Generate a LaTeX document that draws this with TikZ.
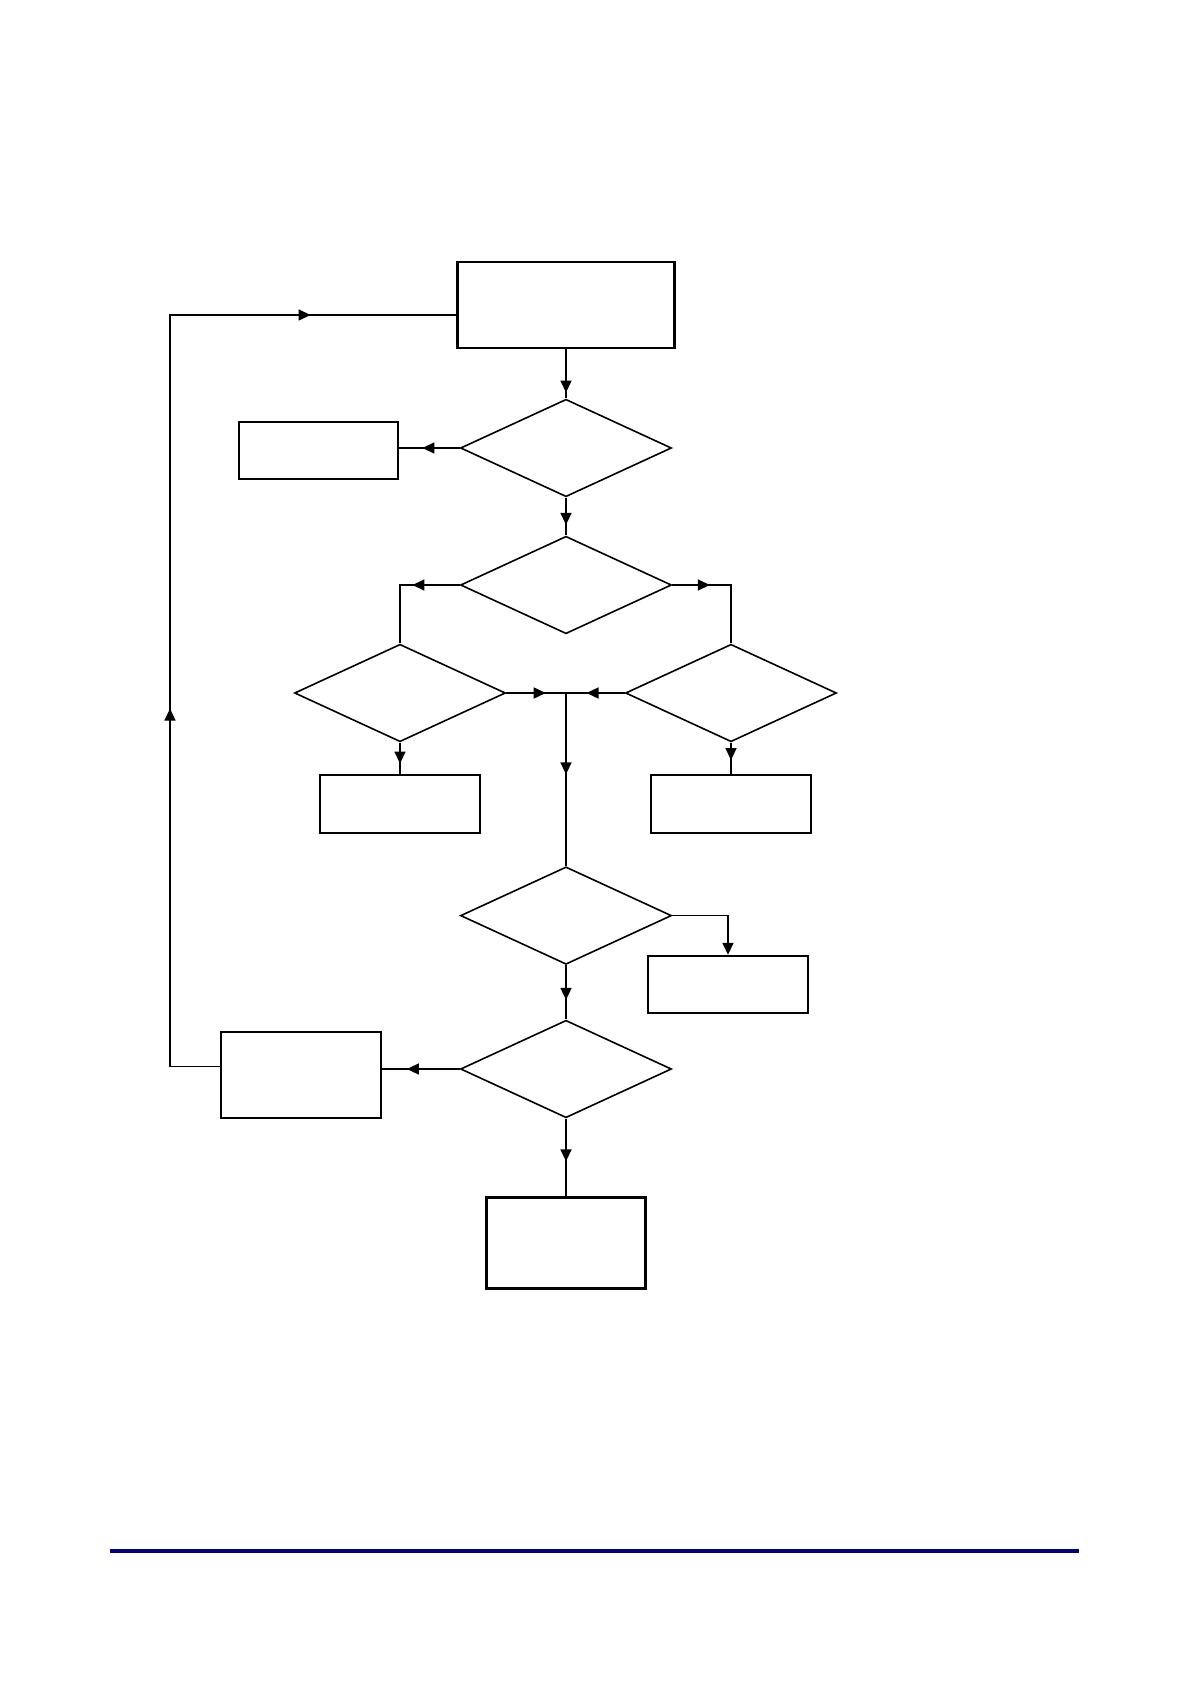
\documentclass[tikz,border=0pt]{standalone}
\usepackage{tikz}
\usetikzlibrary{arrows.meta, shapes.geometric, decorations.markings}
\definecolor{ruleBlue}{HTML}{000080}

\begin{document}
\begin{tikzpicture}[
    x=0.5pt, y=-0.5pt,
    % ── shared styles ───────────────────────────────────────────────
    stepbox/.style={
        rectangle, draw=black, line width=1pt,
        minimum width=80pt, minimum height=29pt,
        inner sep=0pt,
    },
    decision/.style={
        diamond, draw=black, line width=0.8pt,
        minimum width=105.5pt, minimum height=48.75pt,
        inner sep=0pt,
    },
    conn/.style={
        black, line width=0.8pt,
    },
    midarr/.style={
        postaction={decorate, decoration={markings,
            mark=at position #1 with {\arrow{Triangle[length=6pt,width=5.5pt]}}}},
    },
    endarr/.style={
        -{Triangle[length=6pt,width=5.5pt]},
    },
]
\useasboundingbox (0,0) rectangle (1190,1684);

% =============================================================
%  MAIN COLUMN
% =============================================================
\node[stepbox, line width=1.2pt, minimum width=108.5pt, minimum height=43pt]
    (start) at (566,305) {};
\node[decision] (d1) at (566,448) {};
\node[stepbox, minimum width=79.5pt, minimum height=28.5pt] (b1) at (318,450.5) {};
\node[decision] (d2) at (566,585) {};

% Row of side decisions
\node[decision] (d3) at (400,693) {};
\node[decision] (d4) at (731,693) {};
\node[stepbox] (b3) at (400,804.4) {};
\node[stepbox] (b4) at (731,804.4) {};

\node[decision] (d5) at (566,915.6) {};
\node[stepbox, minimum height=28.5pt] (b5) at (728,984.3) {};
\node[decision] (d6) at (566,1069) {};
\node[stepbox, minimum height=43pt] (b6) at (301,1075) {};
\node[stepbox, line width=1.2pt, minimum width=79.5pt, minimum height=45.5pt]
    (b7) at (566,1243) {};

% helper points
\coordinate (join) at (d5.north |- d3.east);
\coordinate (loopbot) at (170,1066.5);
\coordinate (looptop) at (170,315);

% =============================================================
%  Connections
% =============================================================
\draw[conn, midarr=0.88] (start.south) -- (d1.north);
\draw[conn, midarr=0.61] (d1.west) -- (d1.west -| b1.east);
\draw[conn, midarr=0.72] (d1.south) -- (d2.north);

\draw[conn, midarr=0.40] (d2.west) -| (d3.north);
\draw[conn, midarr=0.32] (d2.east) -| (d4.north);

\draw[conn, midarr=0.66] (d3.east) -- (join);
\draw[conn, midarr=0.65] (d4.west) -- (join);
\draw[conn, midarr=0.47] (join) -- (d5.north);

\draw[conn, midarr=0.66] (d3.south) -- (b3.north);
\draw[conn, midarr=0.55] (d4.south) -- (b4.north);

\draw[conn, endarr] (d5.east) -| (b5.north);
\draw[conn, midarr=0.64] (d5.south) -- (d6.north);

\draw[conn, midarr=0.68] (d6.west) -- (d6.west -| b6.east);
\draw[conn, midarr=0.55] (d6.south) -- (b7.north);

% feedback loop back to the top
\draw[conn, midarr=0.375, midarr=0.866]
    (b6.west |- loopbot) -- (loopbot) -- (looptop) -- (looptop -| start.west);

% =============================================================
%  Footer rule
% =============================================================
\draw[ruleBlue, line width=1.6pt] (110,1551) -- (1079,1551);

\end{tikzpicture}
\end{document}
